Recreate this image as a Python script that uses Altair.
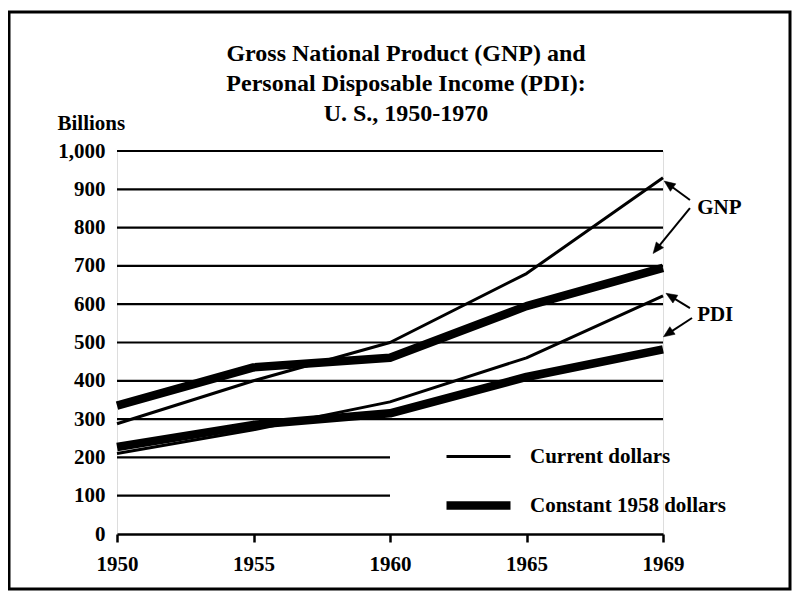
import altair as alt
import pandas as pd

# ---- data ----
years = [1950, 1955, 1960, 1965, 1969]
gnp_current = [288, 400, 500, 680, 930]
gnp_constant = [335, 435, 460, 595, 695]
pdi_current = [210, 272, 345, 460, 622]
pdi_constant = [227, 285, 315, 410, 482]

dollar_types = ["Current dollars", "Constant 1958 dollars"]
x_ticks = [1950, 1955, 1960, 1965, 1969]
y_ticks = [0, 100, 200, 300, 400, 500, 600, 700, 800, 900, 1000]
grid_values = [100, 200, 300, 400, 500, 600, 700, 800, 900, 1000]
grid_ends = [1960, 1960, 1969, 1969, 1969, 1969, 1969, 1969, 1969, 1969]

title_lines = ["Gross National Product (GNP) and",
               "Personal Disposable Income (PDI):",
               "U. S., 1950-1970"]

# annotation labels and arrows (data units)
label_text = ["GNP", "PDI"]
label_year = [1970.0, 1970.0]
label_value = [851, 572]
arrow_tail_year = [1969.79, 1969.79, 1969.79, 1969.85]
arrow_tail_value = [872, 851, 590, 564]
arrow_head_year = [1969.18, 1968.82, 1969.24, 1969.16]
arrow_head_value = [912, 745, 620, 524]
arrow_angle = [306, 218, 302, 235]

FONT = "Liberation Serif"

# ---- tables ----
rows = []
for name, dtype, vals in [("GNP", dollar_types[1], gnp_constant),
                          ("PDI", dollar_types[1], pdi_constant),
                          ("GNP", dollar_types[0], gnp_current),
                          ("PDI", dollar_types[0], pdi_current)]:
    for yr, v in zip(years, vals):
        rows.append({"series": name + " " + dtype, "dollars": dtype, "year": yr, "value": v})
df = pd.DataFrame(rows)

grid_df = pd.DataFrame({"year": [1950] * len(grid_values), "year2": grid_ends, "value": grid_values})
label_df = pd.DataFrame({"year": label_year, "value": label_value, "label": label_text})
arrow_df = pd.DataFrame({"year": arrow_tail_year, "value": arrow_tail_value,
                         "year2": arrow_head_year, "value2": arrow_head_value,
                         "angle": arrow_angle})

W, H = 546, 383
xscale = alt.Scale(domain=[1950, 1965, 1969], range=[0, W * 0.75, W], nice=False, zero=False)
yscale = alt.Scale(domain=[0, 1000], nice=False, zero=True)

xaxis = alt.Axis(values=x_ticks, format="d", title=None, grid=False,
                 labelFont=FONT, labelFontSize=21, labelFontWeight="bold", labelColor="black",
                 labelPadding=11, labelAngle=0, tickSize=8, tickWidth=2.5, tickColor="black",
                 domainColor="black", domainWidth=2.5, labelFlush=False, labelOverlap=False)
yaxis = alt.Axis(values=y_ticks, format=",d", grid=False, ticks=False, tickSize=0, domain=False,
                 labelFont=FONT, labelFontSize=21, labelFontWeight="bold", labelColor="black",
                 labelPadding=12, labelFlush=False, labelOverlap=False,
                 title="Billions", titleFont=FONT, titleFontSize=21, titleFontWeight="bold",
                 titleColor="black", titleAngle=0, titleAlign="left", titleBaseline="middle",
                 titleX=-60, titleY=-28)


def X(field):
    return alt.X(field, scale=xscale, axis=xaxis)


def Y(field):
    return alt.Y(field, scale=yscale, axis=yaxis)


frame = alt.Chart(pd.DataFrame({"f": [0]})).mark_rect(
    fillOpacity=0, stroke="black", strokeWidth=3
).encode(x=alt.value(-108), x2=alt.value(673), y=alt.value(-139), y2=alt.value(438))

grid = alt.Chart(grid_df).mark_rule(color="black", strokeWidth=2.2).encode(
    x=X("year:Q"), x2="year2:Q", y=Y("value:Q"),
)

lines = alt.Chart(df).mark_line(color="black", strokeCap="butt", strokeJoin="round").encode(
    x=X("year:Q"),
    y=Y("value:Q"),
    detail="series:N",
    strokeWidth=alt.StrokeWidth(
        "dollars:N", sort=dollar_types,
        scale=alt.Scale(domain=dollar_types, range=[3, 8.5]),
        legend=alt.Legend(title=None, orient="none", legendX=325, legendY=272,
                          direction="vertical", symbolType="stroke", symbolSize=4096,
                          symbolStrokeColor="black", labelFont=FONT, labelFontSize=21,
                          labelFontWeight="bold", labelColor="black", labelOffset=15,
                          labelLimit=400, padding=0),
    ),
    order="year:Q",
)

arrows = alt.Chart(arrow_df).mark_rule(color="black", strokeWidth=2).encode(
    x=X("year:Q"), x2="year2:Q",
    y=Y("value:Q"), y2="value2:Q",
)
heads = alt.Chart(arrow_df).mark_point(
    shape="M0,-1L0.75,0.8L-0.75,0.8Z", filled=True, fill="black", stroke="black",
    strokeWidth=0.5, size=150, opacity=1
).encode(
    x=X("year2:Q"),
    y=Y("value2:Q"),
    angle=alt.Angle("angle:Q", scale=None),
)

labels = alt.Chart(label_df).mark_text(align="left", baseline="middle", font=FONT,
                                        fontSize=21, fontWeight="bold", color="black").encode(
    x=X("year:Q"),
    y=Y("value:Q"),
    text="label:N",
)

chart = alt.layer(frame, grid, lines, arrows, heads, labels).properties(
    width=W, height=H,
    autosize=alt.AutoSizeParams(type="none"),
    padding={"left": 109, "top": 143, "right": 129, "bottom": 57},
    title=alt.TitleParams(text=title_lines, font=FONT, fontSize=24, fontWeight="bold",
                          color="black", anchor="middle", frame="group", lineHeight=30,
                          offset=0, dx=16, dy=115),
).configure_view(stroke=None).configure(background="white")

chart.save("out.html", embed_options={"renderer": "svg", "actions": False})
